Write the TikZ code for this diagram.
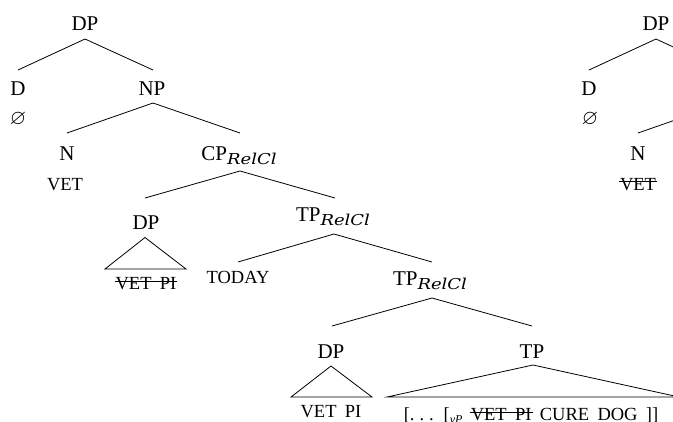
\documentclass[tikz,border=0pt]{standalone}
\usepackage{graphicx}
\usepackage{amssymb}
\usepackage{fontspec}
\setmainfont{Liberation Serif}
\newfontfamily\subfont{DejaVu Serif}
\newfontfamily\scfam[WordSpace=1.8]{Liberation Serif}
\newlength\stw
\newcommand\strk[1]{\settowidth\stw{#1}\makebox[0pt][l]{\kern-1pt\rule[7.8pt]{\dimexpr\stw+2pt\relax}{0.8pt}}#1}
\newcommand\rc{\raisebox{-4pt}{\scalebox{1.2}[1]{\subfont\fontsize{15}{15}\selectfont\itshape RelCl}}}
\newcommand\vpsub{\raisebox{-3pt}{\fontsize{12}{12}\selectfont\itshape vP}}
\newcommand\ddd{.\kern5pt.\kern5pt.}
\tikzset{
  lab/.style={inner sep=0pt, anchor=base, font=\fontsize{21}{21}\selectfont},
  sc/.style={inner sep=0pt, anchor=base, font=\scfam\fontsize{18.5}{18.5}\selectfont},
  edge/.style={line width=0.8pt},
}
\begin{document}
\begin{tikzpicture}[x=1pt,y=-1pt]
\useasboundingbox (0,0) rectangle (673,421);
\clip (0,0) rectangle (673,421);
% left tree nodes
\node[lab] (dpA) at (85,30) {DP};
\node[lab] (dA) at (18,95) {D};
\node[lab] (nullA) at (18,124.5) {$\varnothing$};
\node[lab] (npA) at (152,95) {NP};
\node[lab] (nA) at (67,160) {N};
\node[sc] (vetA) at (65,190) {VET};
\node[lab] (cpA) at (239,160) {CP\rc};
\node[lab] (dpB) at (146,229) {DP};
\node[sc] (vpiA) at (146,289.5) {\strk{VET PI}};
\node[lab] (tpA) at (333,221) {TP\rc};
\node[sc] (today) at (238,283) {TODAY};
\node[lab] (tpB) at (430,285) {TP\rc};
\node[lab] (dpC) at (331,358) {DP};
\node[sc] (vpiB) at (331,417.5) {VET PI};
\node[lab] (tpC) at (532,358) {TP};
\node[sc] (bott) at (531,420.5) {[\ddd{} [\vpsub{} \strk{VET PI} CURE DOG ]]};
% right tree nodes
\node[lab] (dpR) at (656,30) {DP};
\node[lab] (dR) at (589,95) {D};
\node[lab] (nullR) at (590,124.5) {$\varnothing$};
\node[lab] (nR) at (638,160) {N};
\node[sc] (vetR) at (638,190) {\strk{VET}};
% connection points
\coordinate (dpA-b) at (85,39);
\coordinate (dA-t) at (18,70);
\coordinate (npA-t) at (153,70);
\coordinate (npA-b) at (153,103);
\coordinate (nA-t) at (67,133);
\coordinate (cpA-t) at (240,133);
\coordinate (cpA-b) at (240,171);
\coordinate (dpB-t) at (145,198);
\coordinate (tpA-t) at (335,198);
\coordinate (tpA-b) at (334,234);
\coordinate (today-t) at (238,262);
\coordinate (tpB-t) at (432,262);
\coordinate (tpB-b) at (432,298);
\coordinate (dpC-t) at (332,326);
\coordinate (tpC-t) at (532,326);
\coordinate (dpB-a) at (145,237.5);
\coordinate (dpB-l) at (105,269);
\coordinate (dpB-r) at (186,269);
\coordinate (dpC-a) at (331,366);
\coordinate (dpC-l) at (291,397);
\coordinate (dpC-r) at (372,397);
\coordinate (tpC-a) at (533,365);
\coordinate (tpC-l) at (387,397);
\coordinate (tpC-r) at (679,397);
\coordinate (dpR-b) at (656,39);
\coordinate (dR-t) at (589,70);
\coordinate (npR-t) at (723,70);
\coordinate (npR-b) at (724,103);
\coordinate (nR-t) at (638,133);
% edges
\draw[edge] (dpA-b) -- (dA-t);
\draw[edge] (dpA-b) -- (npA-t);
\draw[edge] (npA-b) -- (nA-t);
\draw[edge] (npA-b) -- (cpA-t);
\draw[edge] (cpA-b) -- (dpB-t);
\draw[edge] (cpA-b) -- (tpA-t);
\draw[edge] (tpA-b) -- (today-t);
\draw[edge] (tpA-b) -- (tpB-t);
\draw[edge] (tpB-b) -- (dpC-t);
\draw[edge] (tpB-b) -- (tpC-t);
\draw[edge] (dpB-a) -- (dpB-l) -- (dpB-r) -- cycle;
\draw[edge] (dpC-a) -- (dpC-l) -- (dpC-r) -- cycle;
\draw[edge] (tpC-a) -- (tpC-l) -- (tpC-r) -- cycle;
\draw[edge] (dpR-b) -- (dR-t);
\draw[edge] (dpR-b) -- (npR-t);
\draw[edge] (npR-b) -- (nR-t);
\end{tikzpicture}
\end{document}
